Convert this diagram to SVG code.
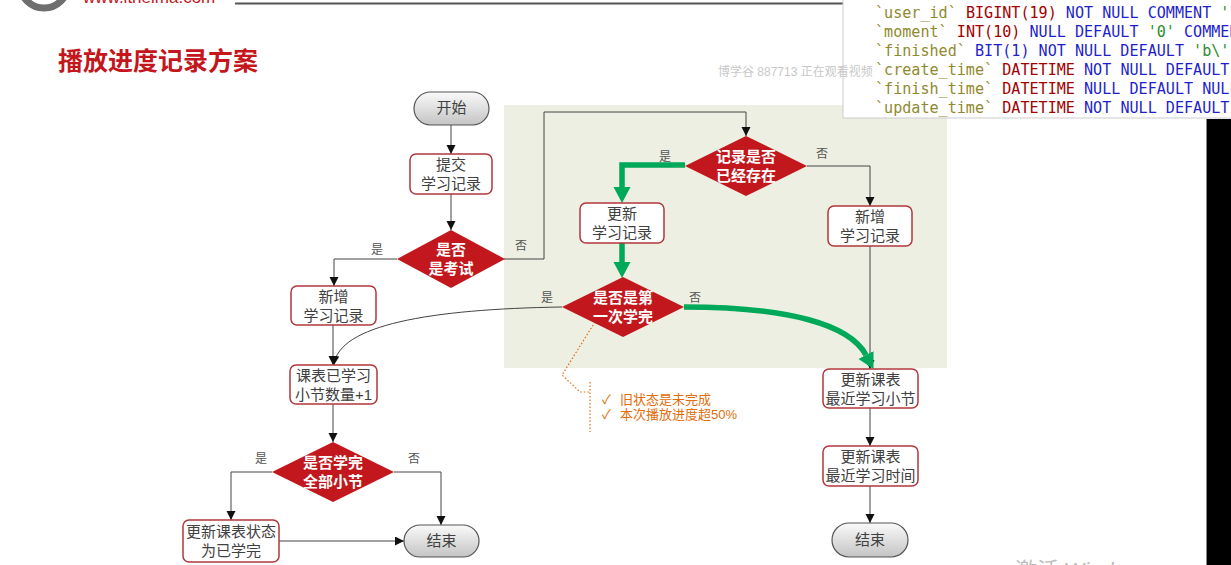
<svg xmlns="http://www.w3.org/2000/svg" width="1231" height="565" viewBox="0 0 1231 565">
<defs>
<linearGradient id="term" x1="0" y1="0" x2="0" y2="1">
<stop offset="0" stop-color="#fafafa"/>
<stop offset="1" stop-color="#c4c4c4"/>
</linearGradient>
<marker id="ah" markerUnits="userSpaceOnUse" markerWidth="10" markerHeight="10" refX="9" refY="4.5" orient="auto">
<path d="M0,0 L9,4.5 L0,9 z" fill="#111"/>
</marker>
<marker id="gah" markerUnits="userSpaceOnUse" markerWidth="17" markerHeight="18" refX="0" refY="8.5" orient="auto">
<path d="M0,0 L16,8.5 L0,17 z" fill="#00A859"/>
</marker>
<style>
.box{fill:#fff;stroke:#B3373B;stroke-width:1.5}
.term{fill:url(#term);stroke:#555;stroke-width:1.2}
.dia{fill:#C2181D}
.t{font-family:"Liberation Sans","Noto Sans CJK SC",sans-serif;font-size:15px;fill:#404040;text-anchor:middle}
.dt{font-family:"Liberation Sans","Noto Sans CJK SC",sans-serif;font-size:15px;fill:#fff;font-weight:bold;text-anchor:middle}
.lbl{font-family:"Liberation Sans","Noto Sans CJK SC",sans-serif;font-size:12px;fill:#555;text-anchor:middle}
.ln{fill:none;stroke:#444;stroke-width:1}
.g{fill:none;stroke:#00A859;stroke-width:5.5}
.code{font-family:"DejaVu Sans Mono","Liberation Mono",monospace;font-size:15.1px}
.ol{fill:#8F8A2E}.rd{fill:#A30000}.bl{fill:#1F1FCC}.gr{fill:#2E8B2E}
.note{font-family:"Liberation Sans","Noto Sans CJK SC",sans-serif;font-size:13px;fill:#E46C0A}
</style>
</defs>
<rect width="1231" height="565" fill="#fff"/>
<!-- header -->
<circle cx="44" cy="-16" r="24" fill="none" stroke="#6e6e6e" stroke-width="7"/>
<text x="83" y="3" font-family="Liberation Sans,sans-serif" font-size="17" fill="#C4161C">www.itheima.com</text>
<line x1="235" y1="3.5" x2="843" y2="3.5" stroke="#555" stroke-width="2"/>
<text x="58" y="70" font-family="Liberation Sans,'Noto Sans CJK SC',sans-serif" font-size="25" font-weight="bold" fill="#C4161C">播放进度记录方案</text>
<!-- panel -->
<rect x="504" y="105" width="443" height="263" fill="#ECEFE1"/>
<!-- code panel -->
<rect x="843" y="-2" width="392" height="120" fill="#fff" stroke="#ccc" stroke-width="1"/>
<g class="code">
<text x="875" y="18"><tspan class="ol">`user_id` </tspan><tspan class="rd">BIGINT(19) </tspan><tspan class="bl">NOT NULL COMMENT </tspan><tspan class="gr">'</tspan></text>
<text x="875" y="37"><tspan class="ol">`moment` </tspan><tspan class="rd">INT(10) </tspan><tspan class="bl">NULL DEFAULT </tspan><tspan class="gr">'0' </tspan><tspan class="bl">COMMENT</tspan></text>
<text x="875" y="56"><tspan class="ol">`finished` </tspan><tspan class="bl">BIT(1) NOT NULL DEFAULT </tspan><tspan class="gr">'b\'</tspan></text>
<text x="875" y="75"><tspan class="ol">`create_time` </tspan><tspan class="rd">DATETIME </tspan><tspan class="bl">NOT NULL DEFAULT</tspan></text>
<text x="875" y="94"><tspan class="ol">`finish_time` </tspan><tspan class="rd">DATETIME </tspan><tspan class="bl">NULL DEFAULT NULL</tspan></text>
<text x="875" y="113"><tspan class="ol">`update_time` </tspan><tspan class="rd">DATETIME </tspan><tspan class="bl">NOT NULL DEFAULT</tspan></text>
</g>
<text x="718" y="76" font-family="Liberation Sans,'Noto Sans CJK SC',sans-serif" font-size="12" fill="#c8c8c8">博学谷 887713 正在观看视频</text>
<rect x="1207" y="119" width="24" height="446" fill="#000"/>
<line x1="1206.5" y1="119" x2="1206.5" y2="565" stroke="#888" stroke-width="1"/>
<text x="1015" y="578" font-family="Liberation Sans,'Noto Sans CJK SC',sans-serif" font-size="22" fill="#bdbdbd">激活 Windows</text>

<!-- connectors -->
<g id="connectors">
<path class="ln" d="M451,125 V154" marker-end="url(#ah)"/>
<path class="ln" d="M451,194 V230" marker-end="url(#ah)"/>
<path class="ln" d="M397,259 H334 V286" marker-end="url(#ah)"/>
<path class="ln" d="M504,259 H544 V112 H746 V136" marker-end="url(#ah)"/>
<path class="ln" d="M807,166 H870 V206" marker-end="url(#ah)"/>
<path class="ln" d="M870,246 V369" marker-end="url(#ah)"/>
<path class="ln" d="M562,307 C430,309 338,325 334,365" marker-end="url(#ah)"/>
<path class="ln" d="M333,325 V365" marker-end="url(#ah)"/>
<path class="ln" d="M333,404 V442" marker-end="url(#ah)"/>
<path class="ln" d="M272,472 H231 V520" marker-end="url(#ah)"/>
<path class="ln" d="M394,472 H441 V525" marker-end="url(#ah)"/>
<path class="ln" d="M279,541 H404" marker-end="url(#ah)"/>
<path class="ln" d="M870,408 V446" marker-end="url(#ah)"/>
<path class="ln" d="M870,486 V523" marker-end="url(#ah)"/>
<path class="g" d="M685,165 H622 V187" marker-end="url(#gah)"/>
<path class="g" d="M622,243 V262" marker-end="url(#gah)"/>
<path class="g" d="M684,307 C790,307 850,325 866,355" marker-end="url(#gah)"/>
<text class="lbl" x="377" y="254">是</text>
<text class="lbl" x="521" y="250">否</text>
<text class="lbl" x="665" y="161">是</text>
<text class="lbl" x="822" y="158">否</text>
<text class="lbl" x="547" y="302">是</text>
<text class="lbl" x="695" y="302">否</text>
<text class="lbl" x="261" y="463">是</text>
<text class="lbl" x="414" y="463">否</text>
</g>

<!-- annotation -->
<g id="note">
<path d="M595,322 L562,375 L580,392 L590,392 M590,382 V432" fill="none" stroke="#E46C0A" stroke-width="1.2" stroke-dasharray="1.5,2"/>
<text class="note" y="404"><tspan x="602">✓</tspan><tspan x="620">旧状态是未完成</tspan></text>
<text class="note" y="419"><tspan x="602">✓</tspan><tspan x="620">本次播放进度超50%</tspan></text>
</g>

<!-- nodes -->
<g id="start"><rect class="term" x="414" y="92" width="75" height="33" rx="16.5"/><text class="t" x="451.5" y="113">开始</text></g>
<g id="submit"><rect class="box" x="410" y="154" width="82" height="40" rx="6"/><text class="t" x="451" y="170">提交</text><text class="t" x="451" y="189">学习记录</text></g>
<g id="isExam"><polygon class="dia" points="451,230 505,259 451,288 397,259"/><text class="dt" x="451" y="255">是否</text><text class="dt" x="451" y="274">是考试</text></g>
<g id="addLeft"><rect class="box" x="291" y="286" width="85" height="39" rx="6"/><text class="t" x="333.5" y="301.5">新增</text><text class="t" x="333.5" y="320.5">学习记录</text></g>
<g id="exists"><polygon class="dia" points="746,136 807,166 746,196 685,166"/><text class="dt" x="746" y="162">记录是否</text><text class="dt" x="746" y="181">已经存在</text></g>
<g id="update"><rect class="box" x="580" y="203" width="84" height="40" rx="6"/><text class="t" x="622" y="219">更新</text><text class="t" x="622" y="238">学习记录</text></g>
<g id="addRight"><rect class="box" x="828" y="206" width="84" height="40" rx="6"/><text class="t" x="870" y="222">新增</text><text class="t" x="870" y="241">学习记录</text></g>
<g id="firstDone"><polygon class="dia" points="623,277 684,307 623,337 562,307"/><text class="dt" x="623" y="303">是否是第</text><text class="dt" x="623" y="322">一次学完</text></g>
<g id="lessons"><rect class="box" x="290" y="365" width="87" height="39" rx="6"/><text class="t" x="333.5" y="380.5">课表已学习</text><text class="t" x="333.5" y="399.5">小节数量+1</text></g>
<g id="allDone"><polygon class="dia" points="333,442 394,472 333,502 272,472"/><text class="dt" x="333" y="468">是否学完</text><text class="dt" x="333" y="487">全部小节</text></g>
<g id="updStatus"><rect class="box" x="183" y="520" width="96" height="42" rx="6"/><text class="t" x="231" y="537">更新课表状态</text><text class="t" x="231" y="556">为已学完</text></g>
<g id="endLeft"><rect class="term" x="404" y="525" width="75" height="32" rx="16"/><text class="t" x="441.5" y="546">结束</text></g>
<g id="updSection"><rect class="box" x="823" y="369" width="95" height="39" rx="6"/><text class="t" x="870.5" y="384.5">更新课表</text><text class="t" x="870.5" y="403.5">最近学习小节</text></g>
<g id="updTime"><rect class="box" x="823" y="446" width="95" height="40" rx="6"/><text class="t" x="870.5" y="462">更新课表</text><text class="t" x="870.5" y="481">最近学习时间</text></g>
<g id="endRight"><rect class="term" x="832" y="523" width="76" height="34" rx="17"/><text class="t" x="870" y="545">结束</text></g>
</svg>
